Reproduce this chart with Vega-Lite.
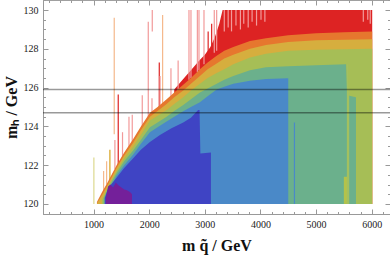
{
  "$schema": "https://vega.github.io/schema/vega-lite/v6.json",
  "width": 347,
  "height": 214,
  "autosize": {"type": "none"},
  "padding": {"left": 43, "top": 0, "right": 0, "bottom": 42},
  "background": "white",
  "config": {
    "view": {"stroke": "#a0a0a0", "strokeWidth": 1},
    "axis": {
      "labelFont": "Liberation Serif", "labelFontSize": 10, "labelColor": "#222",
      "titleFont": "Liberation Serif", "titleFontSize": 16, "titleFontWeight": "bold", "titleColor": "#111",
      "tickColor": "#999", "domainColor": "#999", "grid": false
    }
  },
  "datasets": {
    "red": [{"x":2450,"y":125.9},{"x":2600,"y":126.4},{"x":2750,"y":126.9},{"x":2900,"y":127.4},{"x":3000,"y":127.7},{"x":3100,"y":128.1},{"x":3180,"y":128.6},{"x":3260,"y":129.3},{"x":3320,"y":130.0},{"x":6010,"y":130.0}],
    "orange": [{"x":1060,"y":120.1},{"x":1150,"y":120.6},{"x":1250,"y":121.1},{"x":1413,"y":122.0},{"x":1550,"y":122.65},{"x":1712,"y":123.35},{"x":1850,"y":124.0},{"x":2013,"y":124.7},{"x":2150,"y":125.0},{"x":2313,"y":125.4},{"x":2450,"y":125.75},{"x":2612,"y":126.15},{"x":2750,"y":126.5},{"x":2912,"y":126.95},{"x":3050,"y":127.3},{"x":3213,"y":127.65},{"x":3350,"y":127.9},{"x":3512,"y":128.1},{"x":3812,"y":128.4},{"x":4100,"y":128.55},{"x":4500,"y":128.7},{"x":5000,"y":128.8},{"x":5500,"y":128.85},{"x":6010,"y":128.9}],
    "yellow": [{"x":1065,"y":120.05},{"x":1150,"y":120.45},{"x":1250,"y":120.95},{"x":1413,"y":121.85},{"x":1550,"y":122.5},{"x":1712,"y":123.15},{"x":1850,"y":123.8},{"x":2013,"y":124.5},{"x":2150,"y":124.8},{"x":2313,"y":125.15},{"x":2450,"y":125.5},{"x":2612,"y":125.85},{"x":2750,"y":126.2},{"x":2912,"y":126.6},{"x":3050,"y":126.95},{"x":3213,"y":127.25},{"x":3350,"y":127.5},{"x":3512,"y":127.7},{"x":3812,"y":128.0},{"x":4100,"y":128.2},{"x":4500,"y":128.35},{"x":5000,"y":128.45},{"x":6010,"y":128.5}],
    "yg": [{"x":1150,"y":120.2},{"x":1250,"y":120.85},{"x":1413,"y":121.7},{"x":1550,"y":122.35},{"x":1712,"y":122.95},{"x":1850,"y":123.55},{"x":2013,"y":124.3},{"x":2150,"y":124.55},{"x":2313,"y":124.85},{"x":2450,"y":125.15},{"x":2612,"y":125.5},{"x":2750,"y":125.85},{"x":2912,"y":126.2},{"x":3050,"y":126.5},{"x":3213,"y":126.75},{"x":3350,"y":126.95},{"x":3512,"y":127.2},{"x":3812,"y":127.55},{"x":4100,"y":127.75},{"x":4500,"y":127.9},{"x":5000,"y":127.95},{"x":6010,"y":128.0}],
    "teal": [{"x":1180,"y":120.3},{"x":1250,"y":120.75},{"x":1413,"y":121.6},{"x":1550,"y":122.2},{"x":1712,"y":122.75},{"x":1850,"y":123.3},{"x":2013,"y":123.95},{"x":2150,"y":124.2},{"x":2313,"y":124.5},{"x":2450,"y":124.8},{"x":2612,"y":125.1},{"x":2750,"y":125.4},{"x":2912,"y":125.75},{"x":3050,"y":125.95},{"x":3213,"y":126.2},{"x":3350,"y":126.4},{"x":3512,"y":126.6},{"x":3812,"y":126.9},{"x":4100,"y":127.05},{"x":4500,"y":127.1},{"x":5000,"y":127.15},{"x":5540,"y":127.2},{"x":5560,"y":125.6},{"x":5718,"y":125.5}],
    "lime": [{"x":5500,"y":121.4},{"x":5590,"y":121.4}],
    "blue": [{"x":1230,"y":120.3},{"x":1300,"y":120.85},{"x":1413,"y":121.45},{"x":1550,"y":122.0},{"x":1712,"y":122.55},{"x":1850,"y":123.1},{"x":2013,"y":123.7},{"x":2150,"y":123.95},{"x":2313,"y":124.25},{"x":2450,"y":124.5},{"x":2612,"y":124.78},{"x":2750,"y":125.0},{"x":2912,"y":125.25},{"x":3050,"y":125.55},{"x":3213,"y":125.9},{"x":3350,"y":126.05},{"x":3512,"y":126.2},{"x":3812,"y":126.35},{"x":4100,"y":126.45},{"x":4500,"y":126.48}],
    "dblue": [{"x":1200,"y":120.3},{"x":1250,"y":120.7},{"x":1300,"y":120.95},{"x":1413,"y":121.35},{"x":1550,"y":121.85},{"x":1712,"y":122.35},{"x":1850,"y":122.8},{"x":2013,"y":123.2},{"x":2193,"y":123.55},{"x":2400,"y":123.9},{"x":2612,"y":124.2},{"x":2750,"y":124.45},{"x":2880,"y":124.85},{"x":2905,"y":124.85},{"x":2920,"y":122.6},{"x":3110,"y":122.65}],
    "purple": [{"x":1220,"y":120.3},{"x":1260,"y":120.9},{"x":1300,"y":121.0},{"x":1350,"y":120.85},{"x":1400,"y":121.1},{"x":1450,"y":120.95},{"x":1500,"y":120.85},{"x":1550,"y":120.75},{"x":1600,"y":120.7},{"x":1660,"y":120.6},{"x":1690,"y":120.5}],
    "spikes": [
      {"x":1005,"y":120,"y2":122.4,"c":"pale"},
      {"x":1180,"y":120.6,"y2":121.7,"c":"lorange"},
      {"x":1234,"y":121.0,"y2":122.2,"c":"lorange"},
      {"x":1293,"y":121.2,"y2":122.8,"c":"gold"},
      {"x":1371,"y":123.6,"y2":129.6,"c":"lorange"},
      {"x":1383,"y":121.8,"y2":123.3,"c":"pink"},
      {"x":1443,"y":120.2,"y2":125.65,"c":"red"},
      {"x":1520,"y":122.4,"y2":123.7,"c":"pink"},
      {"x":1636,"y":122.8,"y2":124.5,"c":"pink"},
      {"x":1695,"y":123.2,"y2":124.6,"c":"pink"},
      {"x":1875,"y":123.9,"y2":125.6,"c":"pink"},
      {"x":1983,"y":124.5,"y2":129.4,"c":"pink"},
      {"x":2050,"y":124.6,"y2":125.45,"c":"pink"},
      {"x":2055,"y":128.9,"y2":130,"c":"pink"},
      {"x":2181,"y":125.0,"y2":127.3,"c":"red"},
      {"x":2195,"y":125.0,"y2":126.6,"c":"pink"},
      {"x":2241,"y":125.1,"y2":129.74,"c":"lorange"},
      {"x":2391,"y":125.5,"y2":127.0,"c":"pink"},
      {"x":2520,"y":125.8,"y2":127.4,"c":"pink"},
      {"x":2715,"y":126.4,"y2":130,"c":"pink"},
      {"x":2751,"y":126.5,"y2":130,"c":"pink"},
      {"x":2866,"y":126.8,"y2":130,"c":"pink"},
      {"x":2895,"y":126.9,"y2":130,"c":"pink"},
      {"x":2985,"y":127.2,"y2":130,"c":"pink"},
      {"x":3060,"y":127.5,"y2":128.9,"c":"red"},
      {"x":3123,"y":127.7,"y2":129.3,"c":"red"},
      {"x":3170,"y":127.8,"y2":130,"c":"pink"},
      {"x":3213,"y":127.9,"y2":130,"c":"pink"},
      {"x":3350,"y":128.9,"y2":130,"c":"pink"},
      {"x":3420,"y":129.1,"y2":130,"c":"pink"},
      {"x":3480,"y":128.9,"y2":130,"c":"pink"},
      {"x":3560,"y":129.2,"y2":130,"c":"pink"},
      {"x":3640,"y":129.0,"y2":130,"c":"pink"},
      {"x":3700,"y":129.3,"y2":130,"c":"pink"},
      {"x":3780,"y":129.1,"y2":130,"c":"pink"},
      {"x":3850,"y":129.4,"y2":130,"c":"pink"},
      {"x":3930,"y":129.2,"y2":130,"c":"pink"},
      {"x":4010,"y":129.5,"y2":130,"c":"pink"},
      {"x":4080,"y":129.4,"y2":130,"c":"pink"},
      {"x":5850,"y":129.4,"y2":130,"c":"pink"},
      {"x":5930,"y":129.5,"y2":130,"c":"pink"},
      {"x":5975,"y":129.3,"y2":130,"c":"pink"}
    ],
    "spikes2": [
      {"x":4612,"y":120,"y2":124.2,"c":"blue"},
      {"x":5565,"y":120,"y2":127.2,"c":"lime"},
      {"x":5585,"y":120,"y2":126.0,"c":"lime"}
    ],
    "hlines": [{"h":124.7},{"h":125.9}]
  },
  "layer": [
    {
      "data": {"name": "red"},
      "mark": {"type": "area", "color": "#dd2323"},
      "encoding": {
        "x": {"field": "x", "type": "quantitative", "scale": {"domain": [90, 6330], "nice": false, "zero": false}, "axis": null},
        "y": {"field": "y", "type": "quantitative", "scale": {"domain": [119.48, 130.52], "nice": false, "zero": false}, "axis": null},
        "y2": {"datum": 120}
      }
    },
    {
      "data": {"name": "spikes"},
      "mark": {"type": "rule", "strokeWidth": 1.2},
      "encoding": {
        "x": {"field": "x", "type": "quantitative", "axis": null},
        "y": {"field": "y", "type": "quantitative", "axis": null},
        "y2": {"field": "y2"},
        "color": {"field": "c", "type": "nominal", "legend": null,
          "scale": {"domain": ["pink", "lorange", "red", "gold", "pale"], "range": ["#f29a9a", "#f5b98c", "#dd2323", "#d6a21e", "#dcd98f"]}}
      }
    },
    {
      "data": {"name": "orange"},
      "mark": {"type": "area", "color": "#e6772e"},
      "encoding": {
        "x": {"field": "x", "type": "quantitative", "axis": {"orient": "bottom", "values": [1000, 2000, 3000, 4000, 5000, 6000], "format": "d", "tickSize": -5, "labelPadding": 10, "title": "m q̃  /  GeV", "titlePadding": 8}},
        "y": {"field": "y", "type": "quantitative", "axis": {"orient": "left", "values": [120, 122, 124, 126, 128, 130], "tickSize": -5, "labelPadding": 10, "title": "mₕ  /  GeV", "titlePadding": 4}},
        "y2": {"datum": 120}
      }
    },
    {
      "data": {"name": "yellow"},
      "mark": {"type": "area", "color": "#d6ae3e"},
      "encoding": {
        "x": {"field": "x", "type": "quantitative", "axis": {"orient": "bottom", "values": [200, 400, 600, 800, 1200, 1400, 1600, 1800, 2200, 2400, 2600, 2800, 3200, 3400, 3600, 3800, 4200, 4400, 4600, 4800, 5200, 5400, 5600, 5800, 6200], "tickSize": -2.5, "labels": false, "domain": false, "title": null}},
        "y": {"field": "y", "type": "quantitative", "axis": {"orient": "left", "values": [119.5, 120.5, 121, 121.5, 122.5, 123, 123.5, 124.5, 125, 125.5, 126.5, 127, 127.5, 128.5, 129, 129.5, 130.5], "tickSize": -2.5, "labels": false, "domain": false, "title": null}},
        "y2": {"datum": 120}
      }
    },
    {
      "data": {"name": "yg"},
      "mark": {"type": "area", "color": "#a6be56"},
      "encoding": {
        "x": {"field": "x", "type": "quantitative", "axis": {"orient": "top", "values": [1000, 2000, 3000, 4000, 5000, 6000], "tickSize": -5, "labels": false, "domain": false, "title": null}},
        "y": {"field": "y", "type": "quantitative", "axis": {"orient": "right", "values": [120, 122, 124, 126, 128, 130], "tickSize": -5, "labels": false, "domain": false, "title": null}},
        "y2": {"datum": 120}
      }
    },
    {
      "data": {"name": "teal"},
      "mark": {"type": "area", "color": "#6bb08c"},
      "encoding": {
        "x": {"field": "x", "type": "quantitative", "axis": {"orient": "top", "values": [200, 400, 600, 800, 1200, 1400, 1600, 1800, 2200, 2400, 2600, 2800, 3200, 3400, 3600, 3800, 4200, 4400, 4600, 4800, 5200, 5400, 5600, 5800, 6200], "tickSize": -2.5, "labels": false, "domain": false, "title": null}},
        "y": {"field": "y", "type": "quantitative", "axis": {"orient": "right", "values": [119.5, 120.5, 121, 121.5, 122.5, 123, 123.5, 124.5, 125, 125.5, 126.5, 127, 127.5, 128.5, 129, 129.5, 130.5], "tickSize": -2.5, "labels": false, "domain": false, "title": null}},
        "y2": {"datum": 120}
      }
    },
    {
      "data": {"name": "lime"},
      "mark": {"type": "area", "color": "#b4c24a"},
      "encoding": {
        "x": {"field": "x", "type": "quantitative", "axis": null},
        "y": {"field": "y", "type": "quantitative", "axis": null},
        "y2": {"datum": 120}
      }
    },
    {
      "data": {"name": "spikes2"},
      "mark": {"type": "rule", "strokeWidth": 1.2},
      "encoding": {
        "x": {"field": "x", "type": "quantitative", "axis": null},
        "y": {"field": "y", "type": "quantitative", "axis": null},
        "y2": {"field": "y2"},
        "color": {"field": "c", "type": "nominal", "legend": null,
          "scale": {"domain": ["blue", "lime"], "range": ["#4a89c8", "#a3c060"]}}
      }
    },
    {
      "data": {"name": "blue"},
      "mark": {"type": "area", "color": "#4a89c8"},
      "encoding": {
        "x": {"field": "x", "type": "quantitative", "axis": null},
        "y": {"field": "y", "type": "quantitative", "axis": null},
        "y2": {"datum": 120}
      }
    },
    {
      "data": {"name": "dblue"},
      "mark": {"type": "area", "color": "#3f44c4"},
      "encoding": {
        "x": {"field": "x", "type": "quantitative", "axis": null},
        "y": {"field": "y", "type": "quantitative", "axis": null},
        "y2": {"datum": 120}
      }
    },
    {
      "data": {"name": "purple"},
      "mark": {"type": "area", "color": "#74209a"},
      "encoding": {
        "x": {"field": "x", "type": "quantitative", "axis": null},
        "y": {"field": "y", "type": "quantitative", "axis": null},
        "y2": {"datum": 120}
      }
    },
    {
      "data": {"name": "hlines"},
      "mark": {"type": "rule", "color": "black", "opacity": 0.4, "strokeWidth": 1.5},
      "encoding": {
        "y": {"field": "h", "type": "quantitative", "axis": null}
      }
    }
  ],
  "resolve": {"axis": {"x": "independent", "y": "independent"}, "scale": {"color": "independent"}}
}
